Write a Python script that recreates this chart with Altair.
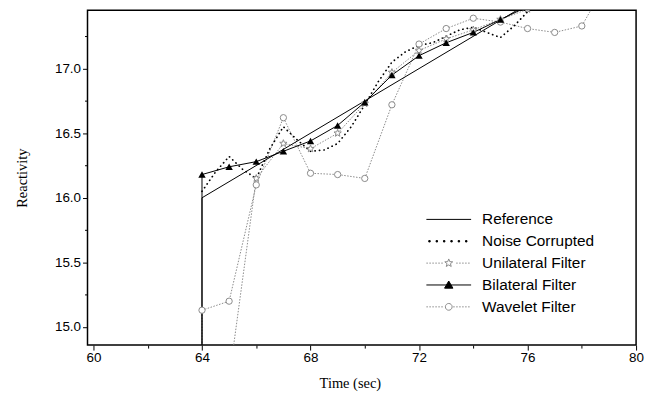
import math
import altair as alt
import pandas as pd

# ---------------- data ----------------
series_names = ["Reference", "Noise Corrupted", "Unilateral Filter", "Bilateral Filter", "Wavelet Filter"]

ref_t = [64, 64, 80]
ref_v = [14.0, 16.0, 18.0]

noise_t = [64, 64.5, 65, 65.5, 66, 66.5, 67, 67.5, 68, 68.5, 69, 69.5, 70, 70.5,
           71, 71.5, 72, 72.5, 73, 73.5, 74, 74.5, 75, 75.5, 76, 76.5]
noise_v = [16.05, 16.2, 16.32, 16.22, 16.15, 16.38, 16.55, 16.45, 16.36, 16.37, 16.42, 16.55, 16.72, 16.9,
           17.05, 17.13, 17.18, 17.2, 17.25, 17.3, 17.32, 17.28, 17.24, 17.33, 17.44, 17.55]

uni_t = [64, 65, 66, 67, 68, 69, 70, 71, 72, 73, 74, 75, 76, 77]
uni_v = [14.0, 14.6, 16.15, 16.42, 16.38, 16.5, 16.73, 16.97, 17.14, 17.23, 17.3, 17.38, 17.46, 17.55]

bil_t = [64, 64, 65, 66, 67, 68, 69, 70, 71, 72, 73, 74, 75, 76, 77]
bil_v = [14.0, 16.18, 16.24, 16.28, 16.36, 16.44, 16.56, 16.74, 16.95, 17.10, 17.20, 17.28, 17.38, 17.48, 17.58]

wav_t = [64, 64, 65, 66, 67, 68, 69, 70, 71, 72, 73, 74, 75, 76, 77, 78, 79]
wav_v = [14.0, 15.13, 15.2, 16.1, 16.62, 16.19, 16.18, 16.15, 16.72, 17.19, 17.31, 17.39, 17.36, 17.31, 17.28, 17.33, 17.7]

x_ticks = list(range(60, 81, 2))
y_ticks = [15.0, 15.25, 15.5, 15.75, 16.0, 16.25, 16.5, 16.75, 17.0, 17.25]

# ---------------- table ----------------
rows = []
for name, ts, vs in [(series_names[0], ref_t, ref_v), (series_names[1], noise_t, noise_v),
                     (series_names[2], uni_t, uni_v), (series_names[3], bil_t, bil_v),
                     (series_names[4], wav_t, wav_v)]:
    for i, (t, v) in enumerate(zip(ts, vs)):
        rows.append({"series": name, "t": t, "v": v, "idx": i})
df = pd.DataFrame(rows)

GRAY = "#8a8a8a"

# ---------------- symbol paths (styles) ----------------
U = 8.0
HALF = 22.5 / U

def star_path(r_out, r_in):
    pts = []
    for k in range(10):
        r = r_out if k % 2 == 0 else r_in
        a = -math.pi / 2 + k * math.pi / 5
        pts.append((r * math.cos(a), r * math.sin(a)))
    return "M" + " L".join(f"{x:.3f},{y:.3f}" for x, y in pts) + " Z"

def dotted_segments(seg, period, skip):
    parts = []
    x = -HALF
    while x + seg <= HALF + 1e-6:
        if x + seg < -skip or x > skip:
            parts.append(f"M{x:.3f},0 H{x + seg:.3f}")
        x += period
    return " ".join(parts)

def dots_squares(size, period):
    parts = []
    x = -HALF + 0.3
    while x + size <= HALF:
        parts.append(f"M{x:.3f},{-size/2:.3f} h{size:.3f} v{size:.3f} h{-size:.3f} Z")
        x += period
    return " ".join(parts)

def circle_path(r):
    return f"M{r},0 A{r},{r} 0 1,1 {-r},0 A{r},{r} 0 1,1 {r},0 Z"

leg_paths = [
    f"M{-HALF},0 H{HALF}",
    dots_squares(1.4 / U, 7.4 / U),
    dotted_segments(1.5 / U, 3.0 / U, 4.5 / U) + " " + star_path(4.2 / U, 1.8 / U),
    f"M{-HALF},0 H{HALF} M0,{-4/U:.3f} L{4.2/U:.3f},{3.2/U:.3f} L{-4.2/U:.3f},{3.2/U:.3f} Z",
    dotted_segments(1.5 / U, 3.0 / U, 4.0 / U) + " " + circle_path(3.4 / U),
]
leg_stroke = ["black", "black", GRAY, "black", GRAY]
leg_fill = ["white", "black", "white", "black", "white"]

# ---------------- encodings ----------------
X = alt.X("t:Q", title="Time (sec)",
          scale=alt.Scale(domain=[59.78, 80], nice=False, zero=False),
          axis=alt.Axis(values=x_ticks, labelExpr="round(datum.value) % 4 == 0 ? datum.label : ''",
                        tickSize={"condition": {"test": "round(datum.value) % 4 == 0", "value": 5}, "value": 3},
                        grid=False, domain=False, tickColor="black", tickWidth=1,
                        labelFont="Liberation Sans", labelFontSize=13.5, labelColor="black", labelPadding=1,
                        labelFlush=False, format="d",
                        titleFont="Liberation Serif", titleFontSize=14.5, titleFontWeight="normal",
                        titleColor="black", titlePadding=12, titleX=264, titleAlign="center"))
Y = alt.Y("v:Q", title="Reactivity",
          scale=alt.Scale(domain=[14.86, 17.452], nice=False, zero=False),
          axis=alt.Axis(values=y_ticks, labelExpr="round(datum.value * 4) % 2 == 0 ? format(datum.value, '.1f') : ''",
                        tickSize={"condition": {"test": "round(datum.value * 4) % 2 == 0", "value": 5}, "value": 3},
                        grid=False, domain=False, tickColor="black", tickWidth=1,
                        labelFont="Liberation Sans", labelFontSize=13.5, labelColor="black", labelPadding=2,
                        labelFlush=False,
                        titleFont="Liberation Serif", titleFontSize=14.5, titleFontWeight="normal",
                        titleColor="black", titlePadding=25))

base = alt.Chart(df)

def line_layer(name, **style):
    return base.transform_filter(alt.datum.series == name).mark_line(clip=True, **style).encode(
        x=X, y=Y, order="idx:Q")

def point_layer(name, **style):
    return base.transform_filter(alt.datum.series == name).mark_point(clip=True, opacity=1, **style).encode(
        x=X, y=Y)

layers = [
    line_layer("Wavelet Filter", color=GRAY, strokeWidth=1, strokeDash=[1.5, 1.5]),
    line_layer("Unilateral Filter", color=GRAY, strokeWidth=1, strokeDash=[1.5, 1.5]),
    line_layer("Noise Corrupted", color="black", strokeWidth=1.7, strokeDash=[0.2, 4.3], strokeCap="round"),
    line_layer("Reference", color="black", strokeWidth=1),
    line_layer("Bilateral Filter", color="black", strokeWidth=1),
    point_layer("Wavelet Filter", shape="circle", size=40, filled=True, fill="white", stroke=GRAY, strokeWidth=1),
    point_layer("Unilateral Filter", shape=star_path(1.0, 0.42), size=60, filled=True, fill="white",
                stroke=GRAY, strokeWidth=1),
    point_layer("Bilateral Filter", shape="triangle-up", size=55, filled=True, color="black"),
]

legend_df = pd.DataFrame({"series": series_names})
leg = alt.Legend(title=None, orient="none", legendX=355, legendY=202, padding=0,
                 symbolSize=256, symbolStrokeWidth=1, symbolOpacity=1,
                 labelFont="Liberation Sans", labelFontSize=15.5, labelColor="black",
                 labelOffset=25, rowPadding=5)
legend_layer = alt.Chart(legend_df).mark_point(clip=True, filled=False).encode(
    x=alt.value(-60), y=alt.value(-60),
    shape=alt.Shape("series:N", scale=alt.Scale(domain=series_names, range=leg_paths), legend=leg),
    stroke=alt.Stroke("series:N", scale=alt.Scale(domain=series_names, range=leg_stroke), legend=leg),
    fill=alt.Fill("series:N", scale=alt.Scale(domain=series_names, range=leg_fill), legend=leg),
)

chart = alt.layer(*layers, legend_layer).properties(
    width=552, height=337,
    background="white",
    padding={"left": 6, "top": 1, "right": 5, "bottom": 5},
).configure_view(stroke="black", strokeWidth=1.5)

chart.save("out.html", embed_options={"renderer": "svg", "actions": False})
